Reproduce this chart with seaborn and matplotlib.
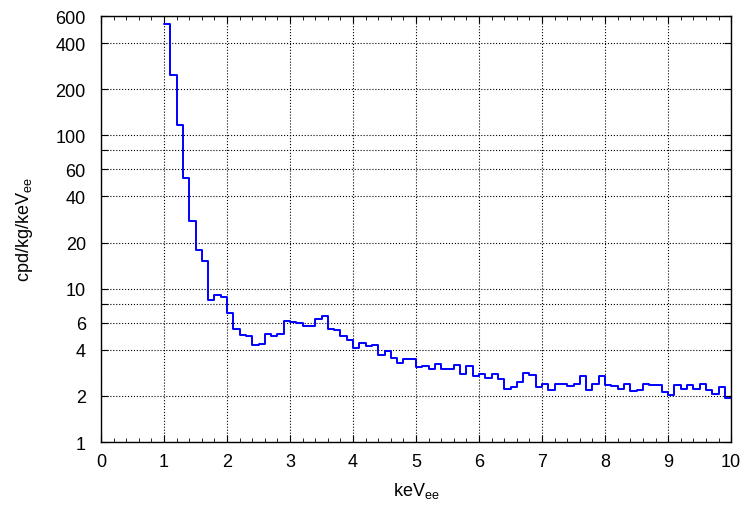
import numpy as np
import pandas as pd
import matplotlib
matplotlib.use("Agg")
import matplotlib.pyplot as plt
import matplotlib.ticker as mticker
import seaborn as sns

# bin edges 1.0 .. 10.0 keVee, width 0.1
bin_lo = 1.0
bin_hi = 10.0
bin_width = 0.1

# rate per bin (cpd/kg/keVee)
rate = [
    530, 248, 117, 53, 27.6, 17.8, 15.2, 8.4, 9.1, 8.8,
    6.9, 5.5, 5.0, 4.9, 4.3, 4.35, 5.1, 4.9, 5.1, 6.2,
    6.05, 6.0, 5.75, 5.7, 6.3, 6.6, 5.45, 5.35, 4.9, 4.6,
    4.1, 4.4, 4.2, 4.3, 3.7, 3.95, 3.55, 3.27, 3.47, 3.47,
    3.08, 3.13, 3.0, 3.22, 3.0, 2.98, 3.2, 2.76, 3.13, 2.7,
    2.76, 2.62, 2.76, 2.57, 2.21, 2.27, 2.48, 2.82, 2.75, 2.28,
    2.40, 2.20, 2.39, 2.39, 2.33, 2.40, 2.70, 2.19, 2.39, 2.70,
    2.36, 2.32, 2.23, 2.38, 2.14, 2.17, 2.40, 2.34, 2.34, 2.11,
    2.02, 2.36, 2.23, 2.36, 2.23, 2.40, 2.17, 2.05, 2.28, 1.95,
]

y_ticks = [1, 2, 4, 6, 8, 10, 20, 40, 60, 80, 100, 200, 400, 600]
y_labels = ["1", "2", "4", "6", "", "10", "20", "40", "60", "", "100", "200", "400", "600"]

edges = np.round(np.arange(bin_lo, bin_hi + bin_width / 2, bin_width), 2)
df = pd.DataFrame({"energy": (edges[:-1] + edges[1:]) / 2, "rate": rate})

sns.set_style("ticks")
plt.rcParams["font.family"] = ["Liberation Sans", "DejaVu Sans"]
plt.rcParams["mathtext.default"] = "regular"
plt.rcParams["xtick.direction"] = "in"
plt.rcParams["ytick.direction"] = "in"
for key in ["text.color", "axes.labelcolor", "xtick.color", "ytick.color"]:
    plt.rcParams[key] = "black"

fig = plt.figure(figsize=(7.43, 5.06), dpi=100)
ax = fig.add_axes([0.136, 0.1245, 0.848, 0.8415])

sns.histplot(data=df, x="energy", weights="rate", binwidth=bin_width,
             binrange=(bin_lo, bin_hi), element="step",
             fill=False, color="#0000ff", linewidth=1.4, ax=ax)

ax.set_yscale("log")
ax.set_xlim(0, 10)
ax.set_ylim(1, 600)
ax.set_xticks(range(0, 11))
ax.xaxis.set_minor_locator(mticker.MultipleLocator(0.2))
ax.set_yticks(y_ticks)
ax.set_yticklabels(y_labels)
ax.yaxis.set_minor_locator(mticker.NullLocator())

ax.tick_params(axis="both", which="major", labelsize=13, length=5, width=0.8,
               top=True, right=True)
ax.tick_params(axis="y", which="major", pad=11)
ax.tick_params(axis="x", which="major", pad=8)
ax.tick_params(axis="x", which="minor", length=3, width=0.6, top=True)

ax.grid(True, which="major", color="black", linestyle=":", linewidth=0.8)

for s in ax.spines.values():
    s.set_linewidth(1.0)
    s.set_color("black")

ax.set_xlabel("keV$_{ee}$", fontsize=13, labelpad=7)
ax.set_ylabel("cpd/kg/keV$_{ee}$", fontsize=13, labelpad=15)

fig.savefig("out.png", dpi=100)
